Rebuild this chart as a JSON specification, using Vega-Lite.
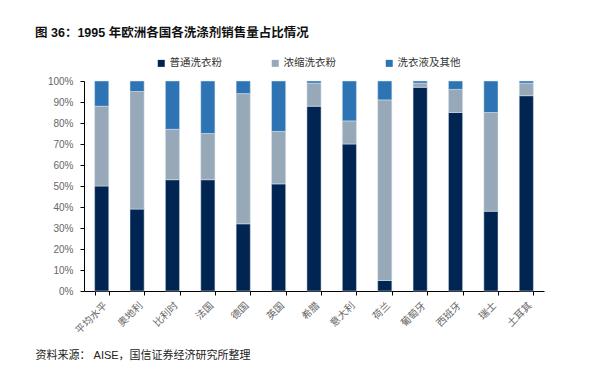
{
  "$schema": "https://vega.github.io/schema/vega-lite/v6.json",
  "autosize": "none",
  "width": 460,
  "height": 210,
  "padding": {"left": 84, "top": 81, "right": 49, "bottom": 92},
  "background": "white",
  "config": {
    "font": "Liberation Sans, Noto Sans CJK SC",
    "view": {"stroke": null}
  },
  "title": {
    "text": "图 36：1995 年欧洲各国各洗涤剂销售量占比情况",
    "anchor": "start",
    "frame": "group",
    "dx": -49,
    "offset": 19,
    "fontSize": 12.5,
    "fontWeight": "bold",
    "color": "#111111",
    "font": "Liberation Sans, Noto Sans CJK SC"
  },
  "data": {
    "values": [
      {"country": "平均水平", "type": "普通洗衣粉", "k": 1, "value": 50},
      {"country": "平均水平", "type": "浓缩洗衣粉", "k": 2, "value": 38},
      {"country": "平均水平", "type": "洗衣液及其他", "k": 3, "value": 12},
      {"country": "奥地利", "type": "普通洗衣粉", "k": 1, "value": 39},
      {"country": "奥地利", "type": "浓缩洗衣粉", "k": 2, "value": 56},
      {"country": "奥地利", "type": "洗衣液及其他", "k": 3, "value": 5},
      {"country": "比利时", "type": "普通洗衣粉", "k": 1, "value": 53},
      {"country": "比利时", "type": "浓缩洗衣粉", "k": 2, "value": 24},
      {"country": "比利时", "type": "洗衣液及其他", "k": 3, "value": 23},
      {"country": "法国", "type": "普通洗衣粉", "k": 1, "value": 53},
      {"country": "法国", "type": "浓缩洗衣粉", "k": 2, "value": 22},
      {"country": "法国", "type": "洗衣液及其他", "k": 3, "value": 25},
      {"country": "德国", "type": "普通洗衣粉", "k": 1, "value": 32},
      {"country": "德国", "type": "浓缩洗衣粉", "k": 2, "value": 62},
      {"country": "德国", "type": "洗衣液及其他", "k": 3, "value": 6},
      {"country": "英国", "type": "普通洗衣粉", "k": 1, "value": 51},
      {"country": "英国", "type": "浓缩洗衣粉", "k": 2, "value": 25},
      {"country": "英国", "type": "洗衣液及其他", "k": 3, "value": 24},
      {"country": "希腊", "type": "普通洗衣粉", "k": 1, "value": 88},
      {"country": "希腊", "type": "浓缩洗衣粉", "k": 2, "value": 11},
      {"country": "希腊", "type": "洗衣液及其他", "k": 3, "value": 1},
      {"country": "意大利", "type": "普通洗衣粉", "k": 1, "value": 70},
      {"country": "意大利", "type": "浓缩洗衣粉", "k": 2, "value": 11},
      {"country": "意大利", "type": "洗衣液及其他", "k": 3, "value": 19},
      {"country": "荷兰", "type": "普通洗衣粉", "k": 1, "value": 5},
      {"country": "荷兰", "type": "浓缩洗衣粉", "k": 2, "value": 86},
      {"country": "荷兰", "type": "洗衣液及其他", "k": 3, "value": 9},
      {"country": "葡萄牙", "type": "普通洗衣粉", "k": 1, "value": 97},
      {"country": "葡萄牙", "type": "浓缩洗衣粉", "k": 2, "value": 2},
      {"country": "葡萄牙", "type": "洗衣液及其他", "k": 3, "value": 1},
      {"country": "西班牙", "type": "普通洗衣粉", "k": 1, "value": 85},
      {"country": "西班牙", "type": "浓缩洗衣粉", "k": 2, "value": 11},
      {"country": "西班牙", "type": "洗衣液及其他", "k": 3, "value": 4},
      {"country": "瑞士", "type": "普通洗衣粉", "k": 1, "value": 38},
      {"country": "瑞士", "type": "浓缩洗衣粉", "k": 2, "value": 47},
      {"country": "瑞士", "type": "洗衣液及其他", "k": 3, "value": 15},
      {"country": "土耳其", "type": "普通洗衣粉", "k": 1, "value": 93},
      {"country": "土耳其", "type": "浓缩洗衣粉", "k": 2, "value": 6},
      {"country": "土耳其", "type": "洗衣液及其他", "k": 3, "value": 1}
    ]
  },
  "mark": {"type": "bar", "stroke": "#dfe6ee", "strokeWidth": 0.5},
  "encoding": {
    "x": {
      "field": "country",
      "type": "nominal",
      "sort": null,
      "scale": {"paddingInner": 0.6, "paddingOuter": 0.3},
      "axis": {
        "title": "资料来源： AISE，国信证券经济研究所整理",
        "titleAnchor": "start",
        "titleAlign": "left",
        "titleBaseline": "middle",
        "titleAngle": 0,
        "titleX": -49,
        "titleY": 64,
        "titleFontSize": 11,
        "titleFontWeight": "normal",
        "titleColor": "#222222",
        "labelAngle": -45,
        "labelFontSize": 10,
        "labelColor": "#666666",
        "labelPadding": 5,
        "domainColor": "#000000",
        "tickColor": "#000000",
        "tickSize": 4,
        "tickBand": "extent"
      }
    },
    "y": {
      "field": "value",
      "type": "quantitative",
      "stack": true,
      "scale": {"domain": [0, 100]},
      "axis": {
        "title": null,
        "values": [0, 10, 20, 30, 40, 50, 60, 70, 80, 90, 100],
        "labelExpr": "datum.value + '%'",
        "grid": false,
        "labelFontSize": 10,
        "labelColor": "#666666",
        "labelPadding": 7,
        "domainColor": "#000000",
        "tickColor": "#000000",
        "tickSize": 4
      }
    },
    "order": {"field": "k", "sort": "ascending"},
    "color": {
      "field": "type",
      "type": "nominal",
      "scale": {
        "domain": ["普通洗衣粉", "浓缩洗衣粉", "洗衣液及其他"],
        "range": ["#002553", "#97a9b9", "#2e74b5"]
      },
      "legend": {
        "title": null,
        "orient": "none",
        "direction": "horizontal",
        "legendX": 72,
        "legendY": -23,
        "symbolType": "square",
        "symbolSize": 49,
        "symbolStrokeWidth": 0,
        "labelFontSize": 10.5,
        "labelColor": "#333333",
        "labelOffset": 3,
        "columnPadding": 48
      }
    }
  }
}
